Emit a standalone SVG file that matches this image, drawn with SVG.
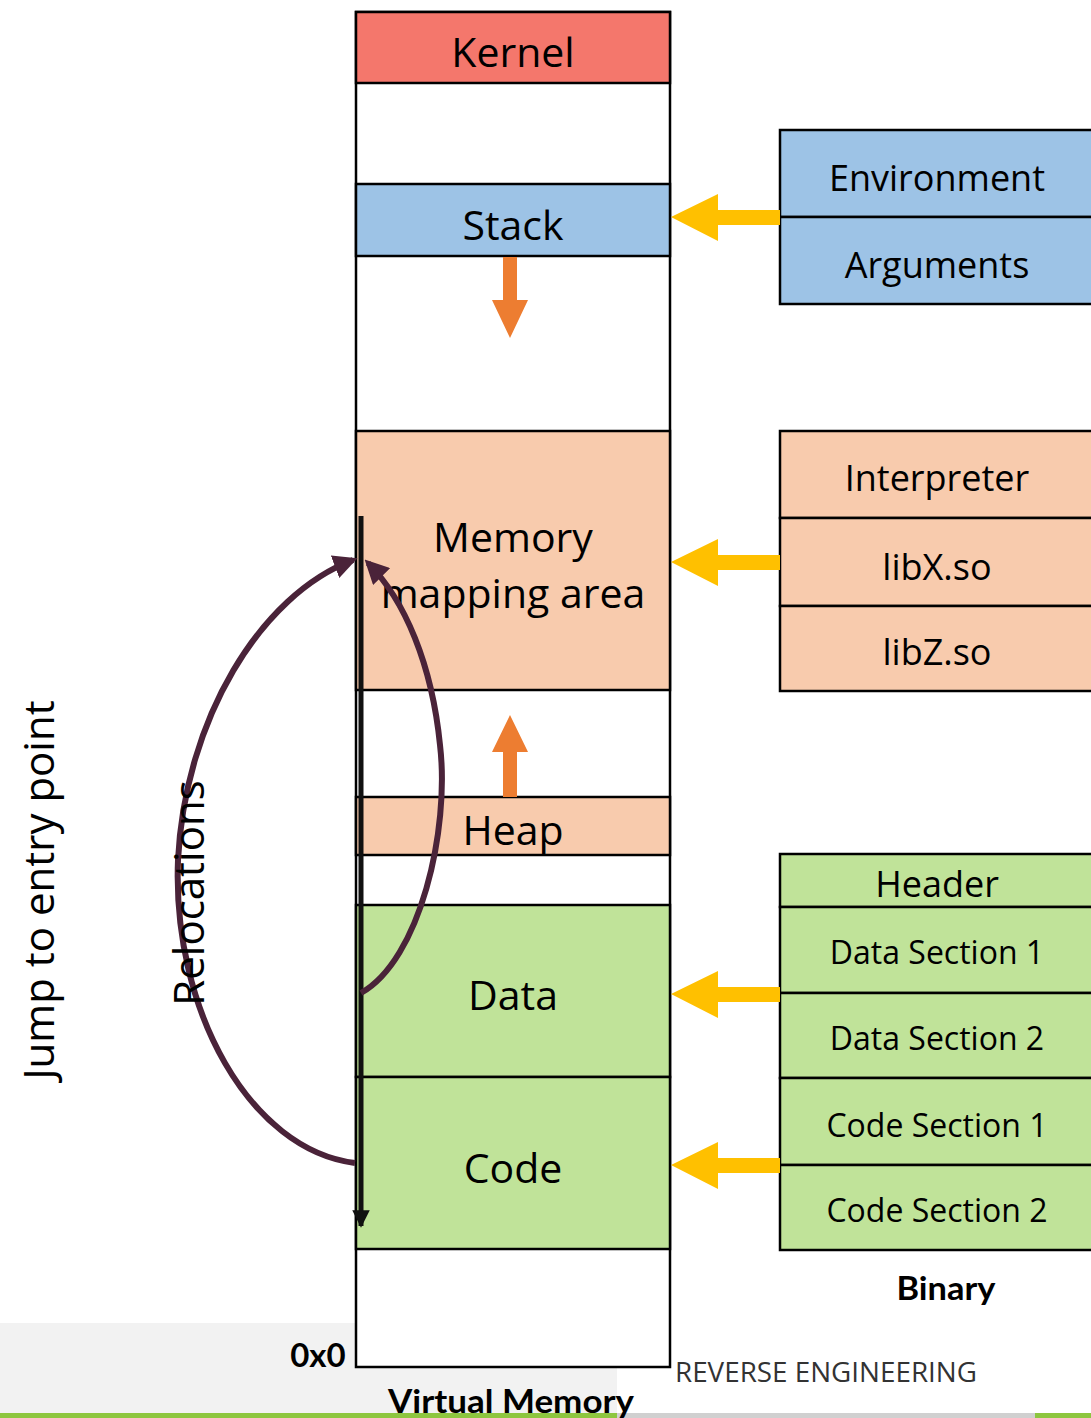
<svg xmlns="http://www.w3.org/2000/svg" width="1091" height="1418" viewBox="0 0 1091 1418">
<style>
.box{stroke:#000;stroke-width:2.5}
.t{font-family:"Open Sans","DejaVu Sans",sans-serif;fill:#000;text-anchor:middle}
.big{font-size:41px}
.mid{font-size:36px}
.sm{font-size:32px}
.b{font-family:Lato,"Open Sans",sans-serif;font-weight:bold;font-size:33px;fill:#000;text-anchor:middle}
.yel{fill:#FFC000}
.org{fill:#ED7D31}
.cur{fill:none;stroke:#4A2339;stroke-width:6}
</style>
<defs>
<marker id="ph" viewBox="0 0 10 10" refX="8" refY="5" markerWidth="4" markerHeight="4" orient="auto" markerUnits="strokeWidth">
<path d="M0,0 L10,5 L0,10 z" fill="#4A2339"/>
</marker>
<marker id="bh" viewBox="0 0 10 10" refX="9" refY="5" markerWidth="3.5" markerHeight="3.5" orient="auto" markerUnits="strokeWidth">
<path d="M0,0 L10,5 L0,10 z" fill="#111"/>
</marker>
</defs>
<rect width="1091" height="1418" fill="#fff"/>
<rect x="0" y="1323" width="617" height="95" fill="#F2F2F2"/>
<rect x="0" y="1413" width="617" height="5" fill="#8DC63F"/>
<rect x="617" y="1413" width="418" height="5" fill="#D0D0D0"/>
<rect x="1035" y="1413" width="56" height="5" fill="#8DC63F"/>

<g id="virtual-memory">
<rect class="box" x="356" y="12" width="314" height="1355" fill="#fff"/>
</g>
<g id="kernel"><rect class="box" x="356" y="12" width="314" height="71" fill="#F4776C"/><text class="t big" x="513" y="67">Kernel</text></g>
<g id="stack"><rect class="box" x="356" y="184" width="314" height="72" fill="#9DC3E6"/><text class="t big" x="513" y="240">Stack</text></g>
<g id="mmap"><rect class="box" x="356" y="431" width="314" height="259" fill="#F8CBAD"/><text class="t big" x="513" y="552">Memory</text><text class="t big" x="513" y="608">mapping area</text></g>
<g id="heap"><rect class="box" x="356" y="797" width="314" height="58" fill="#F8CBAD"/><text class="t big" x="513" y="845">Heap</text></g>
<g id="data"><rect class="box" x="356" y="905" width="314" height="172" fill="#C0E399"/><text class="t big" x="513" y="1010">Data</text></g>
<g id="code"><rect class="box" x="356" y="1077" width="314" height="172" fill="#C0E399"/><text class="t big" x="513" y="1183">Code</text></g>

<g id="env-args">
<rect class="box" x="780" y="130" width="320" height="87" fill="#9DC3E6"/>
<rect class="box" x="780" y="217" width="320" height="87" fill="#9DC3E6"/>
<text class="t mid" x="937" y="191">Environment</text>
<text class="t mid" x="937" y="278">Arguments</text>
</g>
<g id="libs">
<rect class="box" x="780" y="431" width="320" height="87" fill="#F8CBAD"/>
<rect class="box" x="780" y="518" width="320" height="88" fill="#F8CBAD"/>
<rect class="box" x="780" y="606" width="320" height="85" fill="#F8CBAD"/>
<text class="t mid" x="937" y="491">Interpreter</text>
<text class="t mid" x="937" y="580">libX.so</text>
<text class="t mid" x="937" y="665">libZ.so</text>
</g>
<g id="binary">
<rect class="box" x="780" y="854" width="320" height="53" fill="#C0E399"/>
<rect class="box" x="780" y="907" width="320" height="86" fill="#C0E399"/>
<rect class="box" x="780" y="993" width="320" height="85" fill="#C0E399"/>
<rect class="box" x="780" y="1078" width="320" height="87" fill="#C0E399"/>
<rect class="box" x="780" y="1165" width="320" height="85" fill="#C0E399"/>
<text class="t mid" x="937" y="897">Header</text>
<text class="t sm" x="937" y="964">Data Section 1</text>
<text class="t sm" x="937" y="1050">Data Section 2</text>
<text class="t sm" x="937" y="1137">Code Section 1</text>
<text class="t sm" x="937" y="1222">Code Section 2</text>
</g>

<g id="connectors">
<polygon class="yel" points="671,217 718,194 718,210 780,210 780,225 718,225 718,241"/>
<polygon class="yel" points="671,562 718,539 718,555 780,555 780,570 718,570 718,586"/>
<polygon class="yel" points="671,994 718,971 718,987 780,987 780,1002 718,1002 718,1018"/>
<polygon class="yel" points="671,1165 718,1142 718,1158 780,1158 780,1173 718,1173 718,1189"/>
<polygon class="org" points="503,257 517,257 517,300 528,300 510,338 492,300 503,300"/>
<polygon class="org" points="510,715 528,752 517,752 517,797 503,797 503,752 492,752"/>
<line x1="361" y1="516" x2="361" y2="1226" stroke="#111" stroke-width="5" marker-end="url(#bh)"/>
<path class="cur" d="M361,993 C420,960 450,830 440,745 C432,665 405,600 368,563" marker-end="url(#ph)"/>
<path class="cur" d="M355,1163 C250,1150 172,1010 178,860 C185,720 260,595 353,560" marker-end="url(#ph)"/>
</g>

<text class="t" font-size="42" transform="translate(54,890) rotate(-90)">Jump to entry point</text>
<text class="t" font-size="42" transform="translate(204,893) rotate(-90)">Relocations</text>
<text class="b" x="946" y="1300" textLength="99" lengthAdjust="spacingAndGlyphs">Binary</text>
<text class="b" x="318" y="1367">0x0</text>
<text class="b" x="511" y="1413" textLength="246" lengthAdjust="spacingAndGlyphs">Virtual Memory</text>
<text x="675" y="1382" font-family="'Open Sans',sans-serif" font-size="27" fill="#333" textLength="302" lengthAdjust="spacingAndGlyphs">REVERSE ENGINEERING</text>
</svg>
